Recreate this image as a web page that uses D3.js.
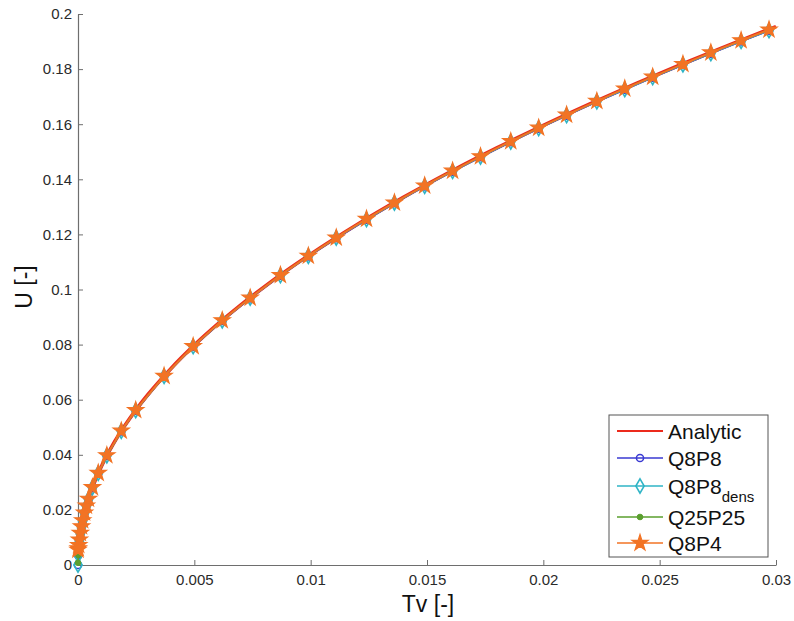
<!DOCTYPE html>
<html>
<head>
<meta charset="utf-8">
<script src="https://cdn.jsdelivr.net/npm/d3@7"></script>
<style>
  html, body { margin: 0; padding: 0; background: #ffffff; }
  svg { display: block; font-family: "Liberation Sans", Arial, Helvetica, sans-serif; }
</style>
</head>
<body>
<svg id="chart" width="794" height="621"></svg>
<script>
// ---------- data ----------
const xTicks = [0, 0.005, 0.01, 0.015, 0.02, 0.025, 0.03];
const xTickLabels = ["0", "0.005", "0.01", "0.015", "0.02", "0.025", "0.03"];
const yTicks = [0, 0.02, 0.04, 0.06, 0.08, 0.1, 0.12, 0.14, 0.16, 0.18, 0.2];
const yTickLabels = ["0", "0.02", "0.04", "0.06", "0.08", "0.1", "0.12", "0.14", "0.16", "0.18", "0.2"];

const seriesNames = ["Analytic", "Q8P8", "Q8P8dens", "Q25P25", "Q8P4"];

const tvAnalytic = [0, 0.000005, 0.00002, 0.00005, 0.0001, 0.0002, 0.0003, 0.0005, 0.00075, 0.001,
  0.0015, 0.002, 0.0025, 0.003, 0.004, 0.005, 0.006, 0.007, 0.008, 0.009, 0.01, 0.012, 0.014,
  0.016, 0.018, 0.02, 0.022, 0.024, 0.026, 0.028, 0.03];
const uAnalytic = [0, 0.00252, 0.00505, 0.00798, 0.01128, 0.01596, 0.01954, 0.02523, 0.0309, 0.03568,
  0.0437, 0.05046, 0.05642, 0.0618, 0.07136, 0.07979, 0.0874, 0.09441, 0.10093, 0.10705, 0.11284,
  0.12361, 0.13351, 0.14273, 0.15139, 0.15958, 0.16737, 0.17481, 0.18195, 0.18882, 0.19544];

const tvNumeric = [0, 0.00001, 0.00003, 0.00006, 0.0001, 0.00015, 0.0002, 0.00028, 0.00036, 0.00045,
  0.00062, 0.00087, 0.00124, 0.00186, 0.00248, 0.0037, 0.00495, 0.0062, 0.0074, 0.0087, 0.0099,
  0.0111, 0.0124, 0.0136, 0.0149, 0.0161, 0.0173, 0.0186, 0.0198, 0.021, 0.0223, 0.0235, 0.0247,
  0.026, 0.0272, 0.0285, 0.0297];
const uQ8P8 = [0, 0.0035, 0.0061, 0.0087, 0.0112, 0.0137, 0.0159, 0.0188, 0.0213, 0.0238,
  0.0280, 0.0332, 0.0396, 0.0485, 0.0560, 0.0684, 0.0792, 0.0886, 0.0968, 0.1050, 0.1120,
  0.1186, 0.1253, 0.1313, 0.1374, 0.1428, 0.1480, 0.1535, 0.1584, 0.1631, 0.1681, 0.1725, 0.1769,
  0.1815, 0.1856, 0.1900, 0.1939];
const uQ8P8dens = [0, 0.0036, 0.0062, 0.0087, 0.0113, 0.0138, 0.0160, 0.0189, 0.0214, 0.0239,
  0.0281, 0.0333, 0.0397, 0.0486, 0.0561, 0.0685, 0.0793, 0.0887, 0.0969, 0.1051, 0.1121,
  0.1187, 0.1254, 0.1314, 0.1375, 0.1429, 0.1481, 0.1536, 0.1585, 0.1632, 0.1682, 0.1726, 0.1770,
  0.1816, 0.1857, 0.1901, 0.1940];
const uQ25P25 = [0.0008, 0.0036, 0.0062, 0.0088, 0.0113, 0.0138, 0.0160, 0.0189, 0.0214, 0.0239,
  0.0281, 0.0333, 0.0397, 0.0486, 0.0562, 0.0686, 0.0794, 0.0888, 0.0970, 0.1052, 0.1122,
  0.1188, 0.1256, 0.1315, 0.1377, 0.1431, 0.1483, 0.1538, 0.1587, 0.1634, 0.1684, 0.1729, 0.1772,
  0.1818, 0.1860, 0.1904, 0.1943];
const uQ8P4 = [0.0055, 0.0060, 0.0072, 0.0092, 0.0116, 0.0140, 0.0162, 0.0190, 0.0215, 0.0240,
  0.0282, 0.0334, 0.0398, 0.0487, 0.0562, 0.0686, 0.0794, 0.0888, 0.0970, 0.1052, 0.1122,
  0.1188, 0.1256, 0.1315, 0.1377, 0.1431, 0.1483, 0.1538, 0.1587, 0.1634, 0.1684, 0.1729, 0.1772,
  0.1818, 0.1860, 0.1904, 0.1943];

// ---------- layout ----------
const svg = d3.select("#chart");
const X0 = 78, X1 = 776, Y0 = 565, Y1 = 14;
const x = d3.scaleLinear().domain([0, 0.03]).range([X0, X1]);
const y = d3.scaleLinear().domain([0, 0.2]).range([Y0, Y1]);

const axisColor = "#6e6e6e";
const labelColor = "#2a2a2a";

const xAxis = d3.axisBottom(x).tickValues(xTicks)
  .tickFormat((d, i) => xTickLabels[i]).tickSizeInner(-5).tickSizeOuter(0).tickPadding(9);
const yAxis = d3.axisLeft(y).tickValues(yTicks)
  .tickFormat((d, i) => yTickLabels[i]).tickSizeInner(-5).tickSizeOuter(0).tickPadding(6);

const gx = svg.append("g").attr("transform", `translate(0,${Y0})`).call(xAxis);
const gy = svg.append("g").attr("transform", `translate(${X0},0)`).call(yAxis);
[gx, gy].forEach(g => {
  g.select(".domain").attr("stroke", axisColor).attr("stroke-width", 1.2);
  g.selectAll(".tick line").attr("stroke", axisColor).attr("stroke-width", 1);
  g.selectAll(".tick text").attr("fill", labelColor).style("font-size", "15px")
    .style("font-family", "'Liberation Sans', Arial, sans-serif");
});

svg.append("text").attr("x", 428).attr("y", 612).attr("text-anchor", "middle")
  .attr("fill", "#111").style("font-size", "23px").text("Tv [-]");
svg.append("text").attr("transform", "translate(32,287) rotate(-90)").attr("text-anchor", "middle")
  .attr("fill", "#111").style("font-size", "23px").text("U [-]");

// ---------- series ----------
const colors = {
  Analytic: "#ec2a1c",
  Q8P8: "#3a3ad2",
  Q8P8dens: "#2fb4c6",
  Q25P25: "#5a9f2e",
  Q8P4: "#f27324"
};

const plot = svg.append("g");
const line = d3.line().x(d => x(d[0])).y(d => y(d[1]));
const smooth = d3.line().x(d => x(d[0])).y(d => y(d[1])).curve(d3.curveMonotoneX);

const analyticPts = tvAnalytic.map((t, i) => [t, uAnalytic[i]]);
plot.append("path").datum(analyticPts).attr("d", smooth)
  .attr("fill", "none").attr("stroke", colors.Analytic).attr("stroke-width", 3.6);

const numeric = [
  { name: "Q8P8", u: uQ8P8, sym: d3.symbolCircle, size: 40, fill: "none", sw: 1.5 },
  { name: "Q8P8dens", u: uQ8P8dens, sym: d3.symbolDiamond, size: 60, fill: "none", sw: 1.6 },
  { name: "Q25P25", u: uQ25P25, sym: d3.symbolCircle, size: 25, fill: "fill", sw: 1 },
  { name: "Q8P4", u: uQ8P4, sym: d3.symbolStar, size: 80, fill: "fill", sw: 1.2 }
];

numeric.forEach(s => {
  const pts = tvNumeric.map((t, i) => [t, s.u[i]]);
  const c = colors[s.name];
  plot.append("path").datum(pts).attr("d", line)
    .attr("fill", "none").attr("stroke", c).attr("stroke-width", s.name === "Q8P4" ? 2 : 1.5);
  plot.append("g").selectAll("path").data(pts).join("path")
    .attr("transform", d => `translate(${x(d[0])},${y(d[1])})`)
    .attr("d", d3.symbol().type(s.sym).size(s.size))
    .attr("fill", s.fill === "fill" ? c : "none")
    .attr("stroke", c).attr("stroke-width", s.sw);
});

// ---------- legend ----------
const lg = svg.append("g");
lg.append("rect").attr("x", 609).attr("y", 415).attr("width", 159).attr("height", 142)
  .attr("fill", "#ffffff").attr("stroke", "#555").attr("stroke-width", 1);
const rowsY = [431, 458, 486, 517, 543];
seriesNames.forEach((name, i) => {
  const yy = rowsY[i];
  const c = colors[name];
  lg.append("line").attr("x1", 617).attr("x2", 663).attr("y1", yy).attr("y2", yy)
    .attr("stroke", c).attr("stroke-width", name === "Analytic" ? 2 : 1.6);
  const spec = numeric.find(s => s.name === name);
  if (spec) {
    lg.append("path").attr("transform", `translate(640,${yy})`)
      .attr("d", d3.symbol().type(spec.sym).size(spec.size))
      .attr("fill", spec.fill === "fill" ? c : "none").attr("stroke", c).attr("stroke-width", spec.sw);
  }
  const t = lg.append("text").attr("x", 668).attr("y", yy + 7.5).attr("fill", "#111")
    .style("font-size", "21px");
  if (name === "Q8P8dens") {
    t.append("tspan").text("Q8P8");
    t.append("tspan").attr("dy", 8).style("font-size", "15px").text("dens");
  } else {
    t.text(name);
  }
});
</script>
</body>
</html>
